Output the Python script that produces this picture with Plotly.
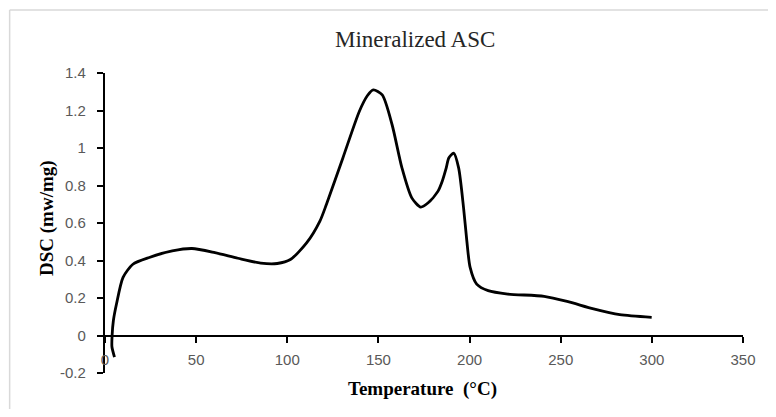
import plotly.graph_objects as go

# Data
temperature = [5.2, 3.8, 3.9, 4.6, 6.3, 9.9, 15.3, 24.3, 36.9, 47.7, 60.3, 72.9, 85.5, 94.5,
               101.7, 110.7, 117.9, 121.5, 130.5, 139.5, 144.0, 147.2, 152.1, 157.5, 162.9,
               168.3, 173.2, 177.3, 182.7, 185.0, 187.2, 188.6, 191.3, 194.0, 196.7, 198.5,
               200.3, 203.9, 210.2, 221.0, 240.9, 253.5, 268.0, 282.4, 299.9]
dsc = [-0.115, -0.06, 0.0, 0.08, 0.168, 0.31, 0.38, 0.416, 0.451, 0.464, 0.442, 0.412, 0.386, 0.384,
       0.405, 0.495, 0.61, 0.70, 0.947, 1.195, 1.28, 1.31, 1.283, 1.124, 0.894,
       0.734, 0.685, 0.708, 0.77, 0.823, 0.894, 0.947, 0.973, 0.894, 0.681, 0.504,
       0.363, 0.274, 0.239, 0.221, 0.209, 0.182, 0.142, 0.111, 0.097]

x_ticks = [0, 50, 100, 150, 200, 250, 300, 350]
y_ticks = [-0.2, 0, 0.2, 0.4, 0.6, 0.8, 1, 1.2, 1.4]
y_tick_labels = ["-0.2", "0", "0.2", "0.4", "0.6", "0.8", "1", "1.2", "1.4"]

title_text = "Mineralized ASC"
x_title = "Temperature  (°C)"
y_title = "DSC (mw/mg)"

# page has an 8px body margin; figure sized to fit the 776x417 window
OFF = 8
W, H = 760, 401
L = 105.3 - OFF
R = W - (753 - OFF)
T = 72.5 - OFF
B = H - (372.7 - OFF)
pw, ph = W - L - R, H - T - B

def px_x(p):
    return (p - OFF - L) / pw

def px_y(p):
    return (H - B - (p - OFF)) / ph

fig = go.Figure()
fig.add_trace(go.Scatter(
    x=temperature, y=dsc, mode="lines",
    line=dict(color="black", width=2.8, shape="spline", smoothing=0.7),
    hoverinfo="skip", showlegend=False,
))

tick_font = dict(family="Liberation Sans, Arial, sans-serif", size=15, color="#595959")

fig.update_layout(
    width=W, height=H,
    margin=dict(l=L, r=R, t=T, b=B, pad=0),
    paper_bgcolor="white", plot_bgcolor="white",
    showlegend=False,
    xaxis=dict(
        range=[0, 350], tickvals=x_ticks, ticktext=[str(v) for v in x_ticks],
        showgrid=False, zeroline=False,
        showline=True, linecolor="black", linewidth=2.2,
        ticks="outside", ticklen=6, tickwidth=2, tickcolor="black",
        tickfont=tick_font, ticklabelstandoff=4,
        anchor="free", position=0.2 / 1.6,
    ),
    yaxis=dict(
        range=[-0.2, 1.4], tickvals=y_ticks, ticktext=y_tick_labels,
        showgrid=False, zeroline=False,
        showline=True, linecolor="black", linewidth=2.2,
        ticks="outside", ticklen=6, tickwidth=2, tickcolor="black",
        tickfont=tick_font, ticklabelstandoff=8,
    ),
)

fig.add_annotation(
    text=title_text, xref="paper", yref="paper", x=px_x(420), y=px_y(39),
    xanchor="center", yanchor="middle", showarrow=False,
    font=dict(family="Liberation Serif, Times New Roman, serif", size=23, color="#262626"),
)
fig.add_annotation(
    text="<b>" + x_title + "</b>", xref="paper", yref="paper", x=px_x(428), y=px_y(389),
    xanchor="center", yanchor="middle", showarrow=False,
    font=dict(family="Liberation Serif, Times New Roman, serif", size=19, color="black"),
)
fig.add_annotation(
    text="<b>" + y_title + "</b>", xref="paper", yref="paper", x=px_x(47), y=px_y(218),
    xanchor="center", yanchor="middle", showarrow=False, textangle=-90,
    font=dict(family="Liberation Serif, Times New Roman, serif", size=19, color="black"),
)

# light chart-area border (left and top edges visible)
fig.add_shape(type="line", xref="paper", yref="paper",
              x0=px_x(8.5), x1=px_x(800), y0=px_y(9.5), y1=px_y(9.5),
              line=dict(color="#d9d9d9", width=1.5))
fig.add_shape(type="line", xref="paper", yref="paper",
              x0=px_x(8.5), x1=px_x(8.5), y0=px_y(9.5), y1=px_y(440),
              line=dict(color="#d9d9d9", width=1.5))

fig.write_html("out.html")
